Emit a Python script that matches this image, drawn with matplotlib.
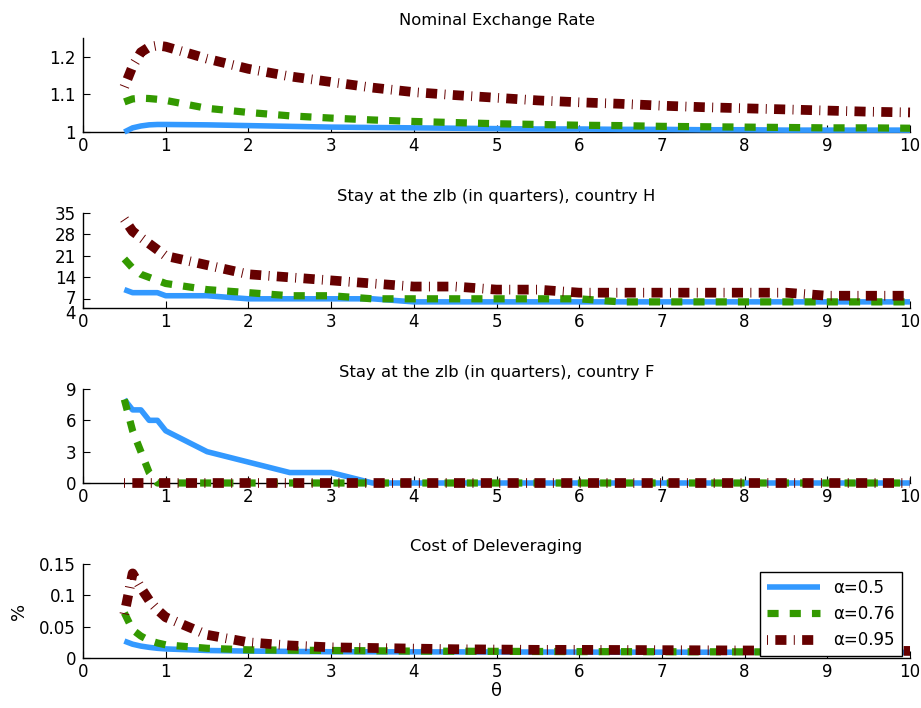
import matplotlib
matplotlib.use("Agg")
import matplotlib.pyplot as plt
from matplotlib.transforms import ScaledTranslation

plt.rcParams["font.family"] = ["DejaVu Sans"]
plt.rcParams["lines.scale_dashes"] = False

# theta grid
theta = [0.5, 0.6, 0.7, 0.8, 0.9, 1.0, 1.5, 2.0, 2.5, 3.0, 3.5, 4.0, 4.5,
         5.0, 5.5, 6.0, 6.5, 7.0, 7.5, 8.0, 8.5, 9.0, 9.5, 10.0]

# Nominal exchange rate
ner_a050 = [1.000, 1.011, 1.016, 1.019, 1.020, 1.020, 1.019, 1.017, 1.015, 1.013,
            1.012, 1.011, 1.010, 1.009, 1.008, 1.008, 1.007, 1.007, 1.006, 1.006,
            1.005, 1.005, 1.005, 1.005]
ner_a076 = [1.080, 1.088, 1.090, 1.089, 1.087, 1.084, 1.063, 1.052, 1.043, 1.037,
            1.032, 1.028, 1.025, 1.022, 1.020, 1.018, 1.017, 1.015, 1.014, 1.013,
            1.012, 1.011, 1.011, 1.010]
ner_a095 = [1.120, 1.175, 1.212, 1.226, 1.230, 1.227, 1.195, 1.168, 1.148, 1.133,
            1.118, 1.106, 1.098, 1.091, 1.084, 1.079, 1.075, 1.070, 1.066, 1.063,
            1.060, 1.057, 1.054, 1.052]

# Quarters at the zero lower bound, country H
zlbH_a050 = [10, 9, 9, 9, 9, 8, 8, 7, 7, 7, 7, 6, 6, 6, 6, 6, 6, 6, 6, 6, 6, 6, 6, 6]
zlbH_a076 = [20, 17, 15, 14, 13, 12, 10, 9, 8, 8, 7, 7, 7, 7, 7, 7, 6, 6, 6, 6, 6, 6, 6, 6]
zlbH_a095 = [33, 29, 27, 25, 23, 21, 18, 15, 14, 13, 12, 11, 11, 10, 10, 9, 9, 9, 9, 9,
             9, 8, 8, 8]

# Quarters at the zero lower bound, country F
zlbF_a050 = [8, 7, 7, 6, 6, 5, 3, 2, 1, 1, 0, 0, 0, 0, 0, 0, 0, 0, 0, 0, 0, 0, 0, 0]
zlbF_a076 = [8, 5, 3, 1, 0, 0, 0, 0, 0, 0, 0, 0, 0, 0, 0, 0, 0, 0, 0, 0, 0, 0, 0, 0]
zlbF_a095 = [0] * 24

# Cost of deleveraging (%)
cost_a050 = [0.027, 0.022, 0.019, 0.017, 0.0155, 0.0145, 0.012, 0.011, 0.0105, 0.010,
             0.0099, 0.0098, 0.0097, 0.0096, 0.0095, 0.0094, 0.0093, 0.0093, 0.0092,
             0.0092, 0.0091, 0.0091, 0.0090, 0.0090]
cost_a076 = [0.072, 0.045, 0.035, 0.028, 0.024, 0.021, 0.0155, 0.013, 0.0125, 0.012,
             0.0115, 0.011, 0.0108, 0.0106, 0.0104, 0.0102, 0.0101, 0.0100, 0.0099,
             0.0098, 0.0097, 0.0096, 0.0095, 0.0095]
cost_a095 = [0.070, 0.135, 0.112, 0.092, 0.077, 0.065, 0.037, 0.025, 0.020, 0.017,
             0.016, 0.015, 0.014, 0.0135, 0.013, 0.013, 0.0128, 0.0125, 0.0123, 0.012,
             0.012, 0.0118, 0.0115, 0.0113]

labels = ["\u03b1=0.5", "\u03b1=0.76", "\u03b1=0.95"]
titles = ["Nominal Exchange Rate",
          "Stay at the zlb (in quarters), country H",
          "Stay at the zlb (in quarters), country F",
          "Cost of Deleveraging"]
panels = [(ner_a050, ner_a076, ner_a095),
          (zlbH_a050, zlbH_a076, zlbH_a095),
          (zlbF_a050, zlbF_a076, zlbF_a095),
          (cost_a050, cost_a076, cost_a095)]
ylims = [(1, 1.25), (4, 35), (0, 9), (0, 0.15)]
yticks = [[1, 1.1, 1.2], [4, 7, 14, 21, 28, 35], [0, 3, 6, 9], [0, 0.05, 0.1, 0.15]]
yticklabels = [["1", "1.1", "1.2"], ["4", "7", "14", "21", "28", "35"],
               ["0", "3", "6", "9"], ["0", "0.05", "0.1", "0.15"]]

styles = [
    dict(color="#3399FF", lw=4.0, ls="-"),
    dict(color="#339900", lw=5.2, ls=(0, (8.0, 8.0))),
    dict(color="#660000", lw=7.0, ls=(0, (0.7, 5.3, 8.0, 5.3))),
]

W, H = 921, 708
fig = plt.figure(figsize=(W / 100, H / 100), dpi=100)
left = 83 / W
width = (910 - 83) / W
tops = [38, 213, 389, 564]
bottoms = [132, 308, 483, 658]

for i in range(4):
    ax = fig.add_axes([left, 1 - bottoms[i] / H, width, (bottoms[i] - tops[i]) / H])
    handles = []
    for y, st, lab in zip(panels[i], styles, labels):
        h, = ax.plot(theta, y, color=st["color"], lw=st["lw"], linestyle=st["ls"],
                     dash_capstyle="butt", solid_capstyle="butt", clip_on=False,
                     label=lab)
        handles.append(h)
    ax.set_xlim(0, 10)
    ax.set_ylim(*ylims[i])
    ax.set_xticks(range(0, 11))
    ax.set_yticks(yticks[i])
    ax.set_yticklabels(yticklabels[i])
    ax.spines["top"].set_visible(False)
    ax.spines["right"].set_visible(False)
    for s in ("left", "bottom"):
        ax.spines[s].set_linewidth(1.0)
        ax.spines[s].set_zorder(0)
    ax.tick_params(direction="in", length=5, width=0.8, labelsize=12)
    ax.tick_params(axis="x", pad=3.5)
    ax.tick_params(axis="y", pad=5)
    ax.set_title(titles[i], fontsize=11.8, pad=9)
    if i == 1:
        # nudge the two closely spaced bottom labels apart
        ylabs = ax.get_yticklabels()
        ylabs[0].set_transform(ylabs[0].get_transform()
                               + ScaledTranslation(0, -2.6 / 72, fig.dpi_scale_trans))
        ylabs[1].set_transform(ylabs[1].get_transform()
                               + ScaledTranslation(0, 1.6 / 72, fig.dpi_scale_trans))
    if i == 3:
        ax.set_ylabel("%", fontsize=13, labelpad=8)
        ax.set_xlabel("\u03b8", fontsize=13, labelpad=1)
        leg = ax.legend(handles=handles, loc="lower right",
                        bbox_to_anchor=(0.990, 0.02), borderaxespad=0,
                        fontsize=12, handlelength=3.2, fancybox=False,
                        framealpha=1, edgecolor="black")
        leg.get_frame().set_linewidth(1.0)

fig.savefig("out.png", dpi=100)
